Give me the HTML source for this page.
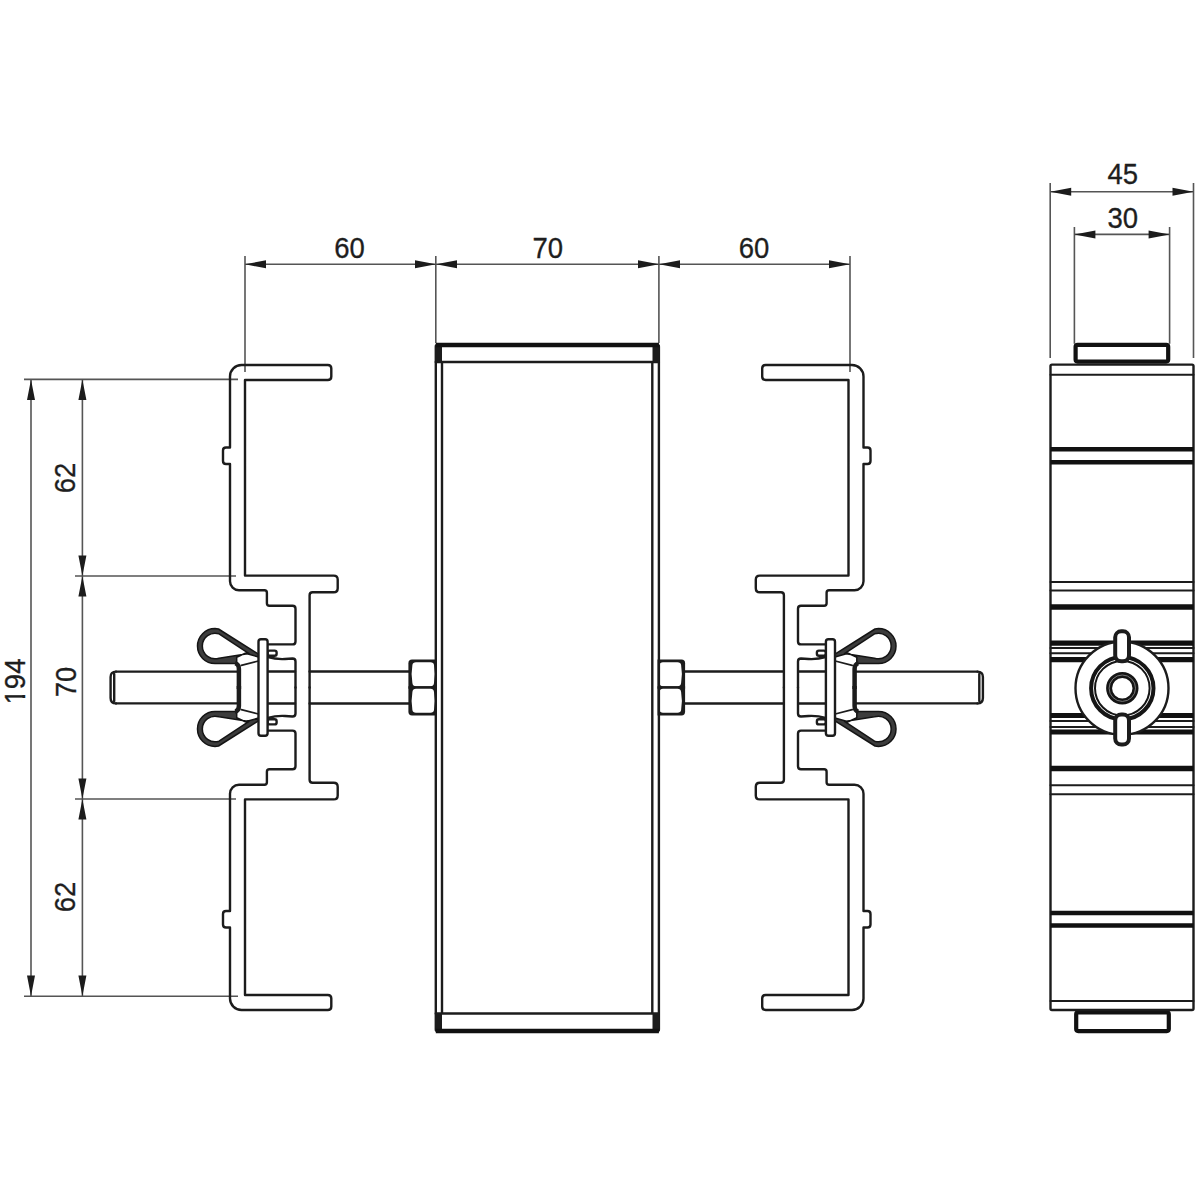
<!DOCTYPE html>
<html><head><meta charset="utf-8"><style>
html,body{margin:0;padding:0;background:#fff;}
svg{display:block;}
text{font-family:"Liberation Sans",sans-serif;fill:#1e1e1e;stroke:#1e1e1e;stroke-width:0.3;}
.o{fill:none;stroke:#1c1c1c;stroke-width:2.4;stroke-linejoin:round;stroke-linecap:round;}
.ow{fill:#fff;stroke:#1c1c1c;stroke-width:2.4;stroke-linejoin:round;}
.t{fill:none;stroke:#1c1c1c;stroke-width:1.8;stroke-linejoin:round;stroke-linecap:round;}
.k{fill:none;stroke:#111;stroke-width:3.6;stroke-linejoin:round;}
.d{fill:none;stroke:#555;stroke-width:1.6;}
.a{fill:#1c1c1c;stroke:none;}
</style></head><body>
<svg width="1200" height="1200" viewBox="0 0 1200 1200">
<defs>
  <!-- top half of left profile -->
  <g id="profTop">
    <path class="o" d="M309.6 687.5 L309.6 595.3 Q309.6 592.3 312.6 592.3 L333.7 592.3 Q337.7 592.3 337.7 588.3 L337.7 579.6 Q337.7 575.6 333.7 575.6 L245 575.6 L245 380 L327.8 380 Q331.3 380 331.3 376.5 L331.3 368.5 Q331.3 365 327.8 365 L241.5 365 A11.5 11.5 0 0 0 230 376.5 L230 447.5 L226 447.5 Q223 447.5 223 450.5 L223 461 Q223 464 226 464 L230 464 L230 581.2 A9 9 0 0 0 239 590.2 L264.4 590.2 Q266.9 590.2 266.9 592.7 L266.9 603.3 Q266.9 605.8 269.4 605.8 L292.5 605.8 Q295.5 605.8 295.5 608.8 L295.5 641.4 Q295.5 644.4 292.5 644.4 L267.4 644.4"/>
    <!-- neck -->
    <path class="o" d="M268 657 Q276 659.5 285 659 L292.5 658.5 Q295.5 658.5 295.5 661.5 L295.5 687.5"/>
    <!-- small tab -->
    <rect class="o" x="267.6" y="650.6" width="9" height="5.2" rx="2"/>
    <!-- rod top line -->
    <path class="o" d="M116 671.6 L238.6 671.6 M268 671.5 L295 671.5 M309.6 671.5 L409.6 671.5"/>
    <!-- wing loop -->
    <path fill="#3c3c3c" stroke="#141414" stroke-width="1.5" stroke-linejoin="round" fill-rule="evenodd" d="M258.5 657 L245.3 653.3 L236.7 657.3 L236.7 663.6 L215 663.6 A17.5 17.5 0 0 1 215 628.6 L218.5 629 L258.5 654.2 Z M249 653.6 L219 658.2 A12.8 12.8 0 1 1 219 633.8 Z"/>
    <path class="o" style="stroke-width:4.5;stroke-linecap:butt" d="M235 663.4 Q238.9 664 238.9 669 L238.9 689"/>
    <path class="t" d="M241.3 665.3 L258.3 661"/>
    <!-- nut half -->
    <path fill="#1c1c1c" d="M436 659.6 L412 659.6 Q408.4 659.6 408.4 663.2 L408.4 688.8 L436 688.8 Z"/>
    <path fill="#fff" d="M416 662.2 L430.5 662.2 Q433.6 662.2 434 665 Q435.6 674 434 683 Q433.6 686.2 430.5 686.2 L416 686.2 Q412.8 686.2 412.4 683 Q410.8 674 412.4 665 Q412.8 662.2 416 662.2 Z"/>
  </g>
  <g id="leftHalf">
    <use href="#profTop"/>
    <use href="#profTop" transform="translate(0,1375) scale(1,-1)"/>
    <!-- washer -->
    <rect class="ow" x="258.5" y="639.3" width="9.1" height="96.4" rx="2.5"/>
    <!-- rod end -->
    <path class="o" d="M116 671.6 Q110.6 671.6 110.6 677 L110.6 698 Q110.6 703.4 116 703.4 M114.2 674 L114.2 701"/>
  </g>
</defs>

<!-- ===== dimension lines top ===== -->
<g>
  <path class="d" d="M245 256 V372 M435.8 256 V343 M658.9 256 V343 M850 256 V372"/>
  <path class="d" d="M245 264.3 H850"/>
  <path class="a" d="M245 264.3 L266 260.3 L266 268.3 Z M436 264.3 L415 260.3 L415 268.3 Z M436 264.3 L457 260.3 L457 268.3 Z M659 264.3 L638 260.3 L638 268.3 Z M659 264.3 L680 260.3 L680 268.3 Z M850 264.3 L829 260.3 L829 268.3 Z"/>
  <text transform="translate(349.5,258) scale(1,1.1)" font-size="27.5" text-anchor="middle">60</text>
  <text transform="translate(547.7,258) scale(1,1.1)" font-size="27.5" text-anchor="middle">70</text>
  <text transform="translate(754,258) scale(1,1.1)" font-size="27.5" text-anchor="middle">60</text>
</g>

<!-- ===== dimension lines left ===== -->
<g>
  <path class="d" d="M24 379.4 H238 M75 576 H236 M75 799 H236 M24 996.2 H238"/>
  <path class="d" d="M31 379.4 V996.2 M82.4 379.4 V996.2"/>
  <path class="a" d="M31 379.4 L27 400 L35 400 Z M31 996.2 L27 975.6 L35 975.6 Z
    M82.4 379.4 L78.4 400 L86.4 400 Z M82.4 576 L78.4 555.4 L86.4 555.4 Z M82.4 576 L78.4 596.6 L86.4 596.6 Z
    M82.4 799 L78.4 778.4 L86.4 778.4 Z M82.4 799 L78.4 819.6 L86.4 819.6 Z M82.4 996.2 L78.4 975.6 L86.4 975.6 Z"/>
  <text transform="translate(25,681.5) rotate(-90) scale(1,1.1)" font-size="27.5" text-anchor="middle">194</text>
  <path fill="#fff" d="M21.9 689 H26.6 V694.9 H21.9 Z M21.9 697.9 H26.6 V704 H21.9 Z"/>
  <path fill="#1e1e1e" d="M22.6 695.1 H24.6 V697.7 H22.6 Z"/>
  <text transform="translate(75,478) rotate(-90) scale(1,1.1)" font-size="27.5" text-anchor="middle">62</text>
  <text transform="translate(76,682) rotate(-90) scale(1,1.1)" font-size="27.5" text-anchor="middle">70</text>
  <text transform="translate(75,897) rotate(-90) scale(1,1.1)" font-size="27.5" text-anchor="middle">62</text>
</g>

<!-- ===== left & right assemblies ===== -->
<use href="#leftHalf"/>
<use href="#leftHalf" transform="translate(1093.5,0) scale(-1,1)"/>

<!-- ===== centre rectangle ===== -->
<g>
  <rect class="o" x="435.8" y="345" width="223.1" height="686" rx="1.5"/>
  <path class="o" d="M442 362 V1013.5 M652.3 362 V1013.5 M435.8 362 H658.9 M435.8 1013.5 H658.9"/>
  <path fill="#1c1c1c" d="M435 345 H442 V363 H435 Z M652.5 345 H659.6 V363 H652.5 Z M435 1013 H442 V1031 H435 Z M652.5 1013 H659.6 V1031 H652.5 Z"/>
  <path class="k" style="stroke-width:4.6" d="M435.8 345 H658.9 M435.8 1031 H658.9"/>
</g>

<!-- ===== side view ===== -->
<g>
  <path class="d" d="M1050.2 183 V358 M1193.5 183 V358 M1074.4 227 V343.7 M1169.6 227 V343.7"/>
  <path class="d" d="M1050.2 191.7 H1193.5 M1074.4 234.4 H1169.6"/>
  <path class="a" d="M1050.2 191.7 L1071.2 187.7 L1071.2 195.7 Z M1193.5 191.7 L1172.5 187.7 L1172.5 195.7 Z M1074.4 234.4 L1095.4 230.4 L1095.4 238.4 Z M1169.6 234.4 L1148.6 230.4 L1148.6 238.4 Z"/>
  <text transform="translate(1122.7,184.4) scale(1,1.1)" font-size="27.5" text-anchor="middle">45</text>
  <text transform="translate(1122.7,228) scale(1,1.1)" font-size="27.5" text-anchor="middle">30</text>

  <rect class="k" style="stroke-width:4.2" x="1075.6" y="344.8" width="92.6" height="16.8" rx="2"/>
  <rect class="k" style="stroke-width:4.2" x="1076.2" y="1012.3" width="92.6" height="18.8" rx="2"/>
  <rect class="o" x="1050.5" y="364.6" width="143" height="645.4" rx="1.5"/>
  <path class="o" style="stroke-width:2" d="M1050.5 374.8 H1193.5 M1050.5 1001 H1193.5 M1050.5 581.9 H1193.5 M1050.5 590.6 H1193.5 M1050.5 785.2 H1193.5 M1050.5 794.2 H1193.5 M1050.5 648 H1193.5 M1050.5 653.3 H1193.5 M1050.5 721 H1193.5 M1050.5 727 H1193.5"/>
  <path class="k" style="stroke-width:4.4" d="M1050.5 449.2 H1193.5 M1050.5 462.3 H1193.5 M1050.5 913 H1193.5 M1050.5 925.5 H1193.5 "/>
  <path fill="none" stroke="#111" stroke-width="5.2" d="M1050.5 643.2 H1193.5 M1050.5 659.7 H1193.5 M1050.5 715.5 H1193.5 M1050.5 732 H1193.5"/>
  <path fill="none" stroke="#111" stroke-width="5.5" d="M1050.5 607 H1193.5 M1050.5 768.5 H1193.5"/>
  <circle class="ow" cx="1122" cy="688.2" r="46.5"/>
  <circle fill="none" stroke="#151515" stroke-width="4" cx="1122.3" cy="688.2" r="31.2"/>
  <circle fill="none" stroke="#151515" stroke-width="2" cx="1122.3" cy="688.2" r="27.3"/>
  <circle fill="none" stroke="#151515" stroke-width="6" cx="1122.3" cy="688.2" r="13.2"/>
  <circle fill="none" stroke="#777" stroke-width="1" cx="1122.3" cy="688.2" r="13.2"/>
  <rect class="ow" style="stroke-width:4" x="1115.2" y="631.3" width="13.8" height="30" rx="6"/>
  <rect class="ow" style="stroke-width:4" x="1115.2" y="714.5" width="13.8" height="30" rx="6"/>
</g>
</svg>
</body></html>
